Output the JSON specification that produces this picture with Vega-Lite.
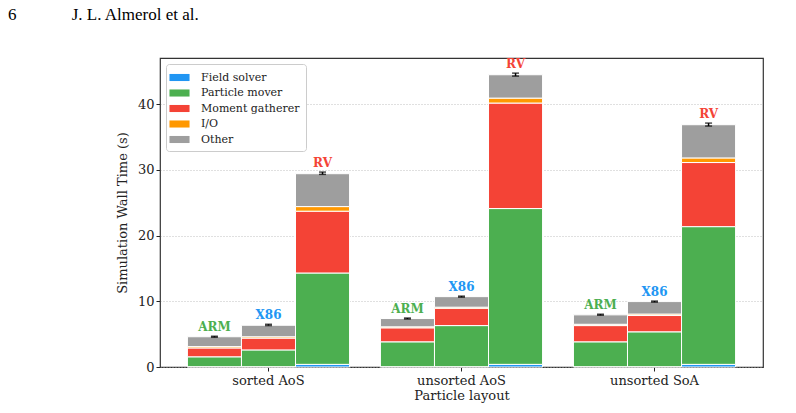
{
  "$schema": "https://vega.github.io/schema/vega-lite/v6.json",
  "autosize": {"type": "none"},
  "width": 603,
  "height": 309,
  "padding": {"left": 160, "top": 58, "right": 33, "bottom": 46},
  "background": "white",
  "title": {
    "text": "6\u00a0\u00a0\u00a0\u00a0\u00a0\u00a0\u00a0\u00a0\u00a0\u00a0\u00a0\u00a0\u00a0J. L. Almerol et al.",
    "anchor": "start",
    "frame": "group",
    "dx": -152,
    "dy": -30,
    "font": "Liberation Serif",
    "fontSize": 17,
    "fontWeight": "normal",
    "color": "black"
  },
  "config": {
    "view": {"stroke": "#333", "strokeWidth": 1.2},
    "font": "DejaVu Serif"
  },
  "datasets": {
    "segs": [
      {"layout": "sorted AoS", "arch": "ARM", "part": "Field solver", "ord": 1, "t": 0.05},
      {"layout": "sorted AoS", "arch": "ARM", "part": "Particle mover", "ord": 2, "t": 1.5},
      {"layout": "sorted AoS", "arch": "ARM", "part": "Moment gatherer", "ord": 3, "t": 1.35},
      {"layout": "sorted AoS", "arch": "ARM", "part": "I/O", "ord": 4, "t": 0.2},
      {"layout": "sorted AoS", "arch": "ARM", "part": "Other", "ord": 5, "t": 1.5},
      {"layout": "sorted AoS", "arch": "X86", "part": "Field solver", "ord": 1, "t": 0.05},
      {"layout": "sorted AoS", "arch": "X86", "part": "Particle mover", "ord": 2, "t": 2.55},
      {"layout": "sorted AoS", "arch": "X86", "part": "Moment gatherer", "ord": 3, "t": 1.8},
      {"layout": "sorted AoS", "arch": "X86", "part": "I/O", "ord": 4, "t": 0.2},
      {"layout": "sorted AoS", "arch": "X86", "part": "Other", "ord": 5, "t": 1.75},
      {"layout": "sorted AoS", "arch": "RV", "part": "Field solver", "ord": 1, "t": 0.4},
      {"layout": "sorted AoS", "arch": "RV", "part": "Particle mover", "ord": 2, "t": 13.9},
      {"layout": "sorted AoS", "arch": "RV", "part": "Moment gatherer", "ord": 3, "t": 9.4},
      {"layout": "sorted AoS", "arch": "RV", "part": "I/O", "ord": 4, "t": 0.7},
      {"layout": "sorted AoS", "arch": "RV", "part": "Other", "ord": 5, "t": 5.0},
      {"layout": "unsorted AoS", "arch": "ARM", "part": "Field solver", "ord": 1, "t": 0.05},
      {"layout": "unsorted AoS", "arch": "ARM", "part": "Particle mover", "ord": 2, "t": 3.78},
      {"layout": "unsorted AoS", "arch": "ARM", "part": "Moment gatherer", "ord": 3, "t": 2.13},
      {"layout": "unsorted AoS", "arch": "ARM", "part": "I/O", "ord": 4, "t": 0.15},
      {"layout": "unsorted AoS", "arch": "ARM", "part": "Other", "ord": 5, "t": 1.26},
      {"layout": "unsorted AoS", "arch": "X86", "part": "Field solver", "ord": 1, "t": 0.05},
      {"layout": "unsorted AoS", "arch": "X86", "part": "Particle mover", "ord": 2, "t": 6.25},
      {"layout": "unsorted AoS", "arch": "X86", "part": "Moment gatherer", "ord": 3, "t": 2.64},
      {"layout": "unsorted AoS", "arch": "X86", "part": "I/O", "ord": 4, "t": 0.16},
      {"layout": "unsorted AoS", "arch": "X86", "part": "Other", "ord": 5, "t": 1.6},
      {"layout": "unsorted AoS", "arch": "RV", "part": "Field solver", "ord": 1, "t": 0.4},
      {"layout": "unsorted AoS", "arch": "RV", "part": "Particle mover", "ord": 2, "t": 23.7},
      {"layout": "unsorted AoS", "arch": "RV", "part": "Moment gatherer", "ord": 3, "t": 16.05},
      {"layout": "unsorted AoS", "arch": "RV", "part": "I/O", "ord": 4, "t": 0.75},
      {"layout": "unsorted AoS", "arch": "RV", "part": "Other", "ord": 5, "t": 3.55},
      {"layout": "unsorted SoA", "arch": "ARM", "part": "Field solver", "ord": 1, "t": 0.05},
      {"layout": "unsorted SoA", "arch": "ARM", "part": "Particle mover", "ord": 2, "t": 3.78},
      {"layout": "unsorted SoA", "arch": "ARM", "part": "Moment gatherer", "ord": 3, "t": 2.47},
      {"layout": "unsorted SoA", "arch": "ARM", "part": "I/O", "ord": 4, "t": 0.2},
      {"layout": "unsorted SoA", "arch": "ARM", "part": "Other", "ord": 5, "t": 1.43},
      {"layout": "unsorted SoA", "arch": "X86", "part": "Field solver", "ord": 1, "t": 0.05},
      {"layout": "unsorted SoA", "arch": "X86", "part": "Particle mover", "ord": 2, "t": 5.3},
      {"layout": "unsorted SoA", "arch": "X86", "part": "Moment gatherer", "ord": 3, "t": 2.48},
      {"layout": "unsorted SoA", "arch": "X86", "part": "I/O", "ord": 4, "t": 0.22},
      {"layout": "unsorted SoA", "arch": "X86", "part": "Other", "ord": 5, "t": 1.9},
      {"layout": "unsorted SoA", "arch": "RV", "part": "Field solver", "ord": 1, "t": 0.4},
      {"layout": "unsorted SoA", "arch": "RV", "part": "Particle mover", "ord": 2, "t": 20.95},
      {"layout": "unsorted SoA", "arch": "RV", "part": "Moment gatherer", "ord": 3, "t": 9.75},
      {"layout": "unsorted SoA", "arch": "RV", "part": "I/O", "ord": 4, "t": 0.7},
      {"layout": "unsorted SoA", "arch": "RV", "part": "Other", "ord": 5, "t": 5.05}
    ],
    "errs": [
      {"layout": "sorted AoS", "arch": "ARM", "lo": 4.52, "hi": 4.68},
      {"layout": "sorted AoS", "arch": "X86", "lo": 6.3, "hi": 6.5},
      {"layout": "sorted AoS", "arch": "RV", "lo": 29.3, "hi": 29.65},
      {"layout": "unsorted AoS", "arch": "ARM", "lo": 7.3, "hi": 7.45},
      {"layout": "unsorted AoS", "arch": "X86", "lo": 10.62, "hi": 10.78},
      {"layout": "unsorted AoS", "arch": "RV", "lo": 44.25, "hi": 44.7},
      {"layout": "unsorted SoA", "arch": "ARM", "lo": 7.87, "hi": 8.03},
      {"layout": "unsorted SoA", "arch": "X86", "lo": 9.87, "hi": 10.03},
      {"layout": "unsorted SoA", "arch": "RV", "lo": 36.65, "hi": 37.1}
    ]
  },
  "encoding": {
    "x": {
      "field": "layout",
      "type": "nominal",
      "sort": ["sorted AoS", "unsorted AoS", "unsorted SoA"],
      "scale": {"paddingInner": 0.16, "paddingOuter": 0.142},
      "axis": {
        "title": "Particle layout",
        "labelAngle": 0,
        "labelFont": "DejaVu Serif",
        "labelFontSize": 13,
        "labelColor": "#222",
        "titleFont": "DejaVu Serif",
        "titleFontSize": 13,
        "titleFontWeight": "normal",
        "titleColor": "#222",
        "titlePadding": 2,
        "labelPadding": 3,
        "tickColor": "#222",
        "tickSize": 4,
        "domain": false,
        "grid": false
      }
    },
    "xOffset": {
      "field": "arch",
      "type": "nominal",
      "sort": ["ARM", "X86", "RV"],
      "scale": {"paddingInner": 0, "paddingOuter": 0}
    }
  },
  "layer": [
    {
      "data": {"name": "segs"},
      "mark": {"type": "bar", "stroke": "white", "strokeWidth": 1},
      "encoding": {
        "y": {
          "field": "t",
          "type": "quantitative",
          "aggregate": "sum",
          "stack": "zero",
          "scale": {"domain": [0, 47], "nice": false},
          "axis": {
            "title": "Simulation Wall Time (s)",
            "values": [0, 10, 20, 30, 40],
            "labelFont": "DejaVu Serif",
            "labelFontSize": 13,
            "labelColor": "#222",
            "titleFont": "DejaVu Serif",
            "titleFontSize": 13,
            "titleFontWeight": "normal",
            "titleColor": "#222",
            "titlePadding": 8,
            "tickColor": "#222",
            "tickSize": 4,
            "domain": false,
            "grid": true,
            "gridColor": "#b0b0b0",
            "gridDash": [1, 2],
            "gridWidth": 0.8
          }
        },
        "color": {
          "field": "part",
          "type": "nominal",
          "scale": {
            "domain": ["Field solver", "Particle mover", "Moment gatherer", "I/O", "Other"],
            "range": ["#2196f3", "#4caf50", "#f44336", "#ff9800", "#9e9e9e"]
          },
          "legend": {
            "orient": "top-left",
            "offset": 6,
            "title": null,
            "symbolType": "M-1.42,-0.5L1.42,-0.5L1.42,0.5L-1.42,0.5Z",
            "symbolSize": 200,
            "symbolStrokeWidth": 0,
            "labelFont": "DejaVu Serif",
            "labelFontSize": 11,
            "labelColor": "#222",
            "labelOffset": 14,
            "rowPadding": 2.5,
            "padding": 6,
            "strokeColor": "#cccccc",
            "fillColor": "white",
            "cornerRadius": 3
          }
        },
        "order": {"field": "ord", "type": "quantitative", "aggregate": "min"}
      }
    },
    {
      "data": {"name": "errs"},
      "mark": {"type": "rule", "color": "black", "strokeWidth": 1.5},
      "encoding": {
        "y": {"field": "lo", "type": "quantitative"},
        "y2": {"field": "hi"}
      }
    },
    {
      "data": {"name": "errs"},
      "mark": {"type": "tick", "color": "black", "size": 7, "thickness": 1.5},
      "encoding": {"y": {"field": "lo", "type": "quantitative"}}
    },
    {
      "data": {"name": "errs"},
      "mark": {"type": "tick", "color": "black", "size": 7, "thickness": 1.5},
      "encoding": {"y": {"field": "hi", "type": "quantitative"}}
    },
    {
      "data": {"name": "errs"},
      "mark": {"type": "text", "font": "DejaVu Serif", "fontSize": 12, "fontWeight": "bold", "baseline": "alphabetic", "dy": -5},
      "encoding": {
        "y": {"field": "hi", "type": "quantitative"},
        "text": {"field": "arch", "type": "nominal"},
        "color": {
          "field": "arch",
          "type": "nominal",
          "scale": {"domain": ["ARM", "X86", "RV"], "range": ["#4caf50", "#2196f3", "#f44336"]},
          "legend": null
        }
      }
    }
  ],
  "resolve": {"scale": {"color": "independent"}}
}
